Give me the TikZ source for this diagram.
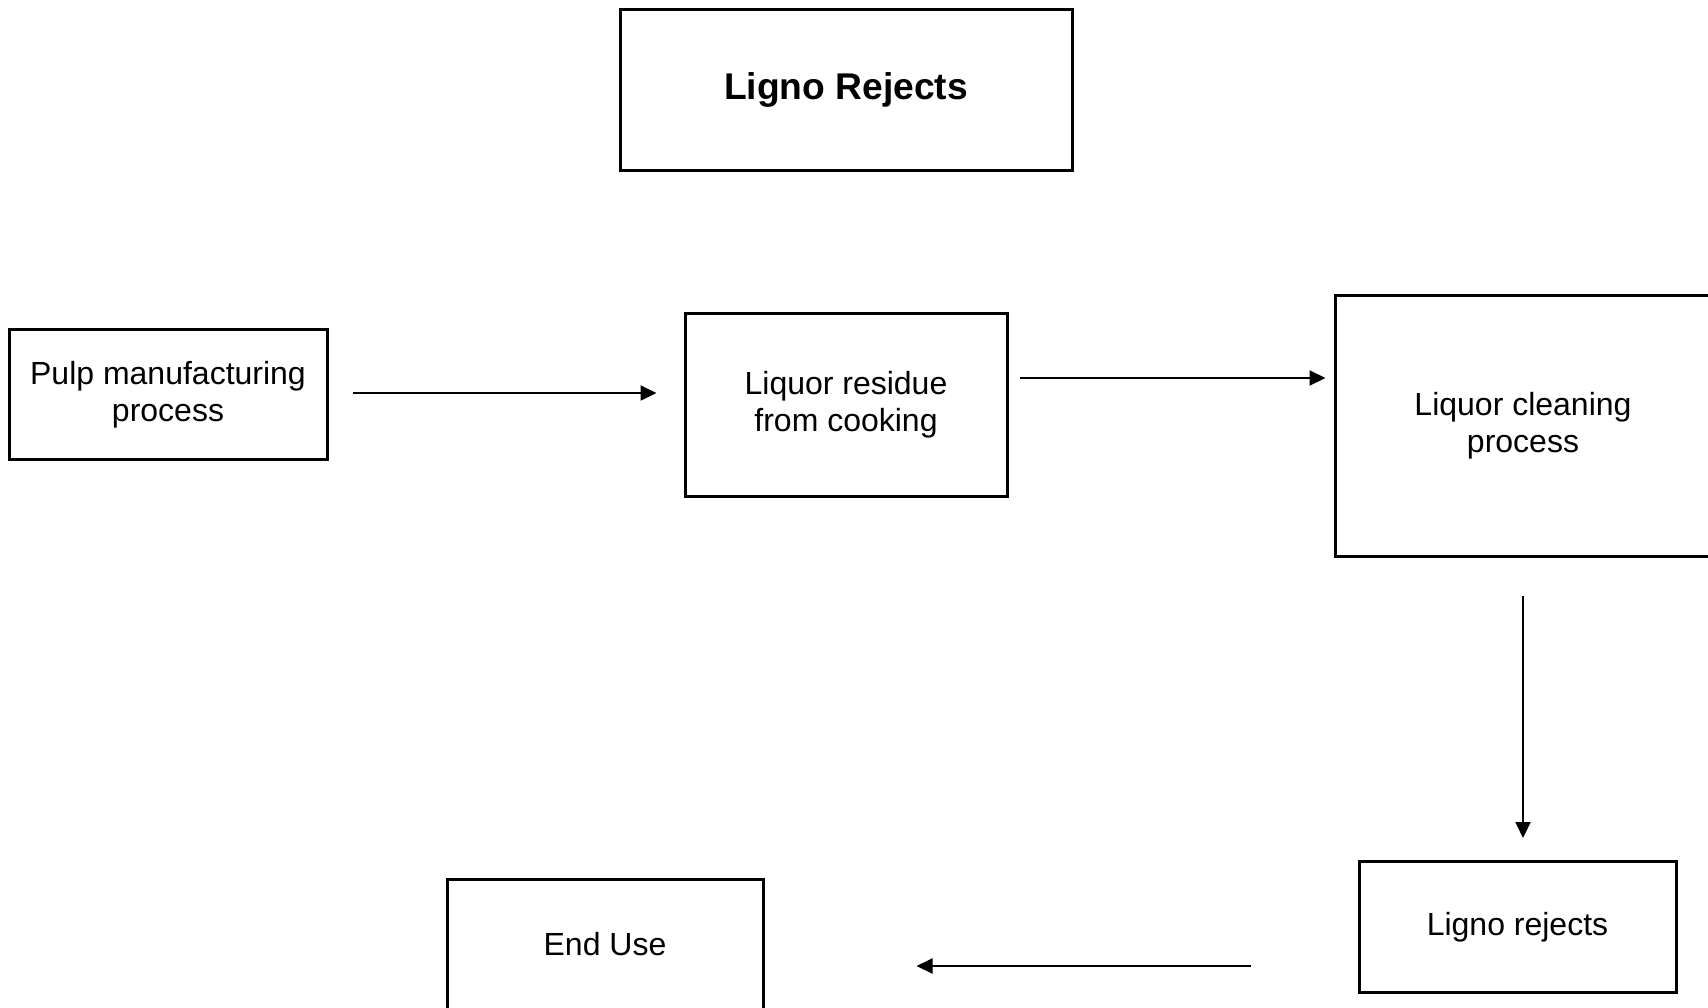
\documentclass[tikz,border=0pt]{standalone}
\usepackage{fontspec}
\setmainfont{Liberation Sans}
\usetikzlibrary{arrows.meta}

\begin{document}
\begin{tikzpicture}[x = .5pt, y = -.5pt,
	box/.style = {draw, line width = 1.5pt, align = center, inner sep = 0pt,
		font = \fontsize{16}{18.3}\selectfont},
	flow/.style = {line width = 1pt, -{Triangle[length = 8pt, width = 7.5pt]}}]
% fix page size
	\useasboundingbox (0,0) rectangle (1708, 1007);
% draw boxes
	\node[box, minimum width = 226pt, minimum height = 80.5pt,
		font = \fontsize{18.6}{22}\selectfont\bfseries] (title) at (846, 89.5) {Ligno Rejects};
	\node[box, minimum width = 159pt, minimum height = 65pt] (pulp) at (168, 394.5) {Pulp manufacturing\\process};
	\node[box, minimum width = 161pt, minimum height = 91.5pt] (residue) at (846, 404.5) {Liquor residue\\from cooking};
	\node[box, minimum width = 188pt, minimum height = 130.5pt] (cleaning) at (1523, 426) {Liquor cleaning\\process};
	\node[box, minimum width = 158.5pt, minimum height = 65.5pt] (ligno) at (1517.5, 927) {Ligno rejects};
	\node[box, minimum width = 158pt, minimum height = 65.5pt] (enduse) at (605, 944.5) {End Use};
% draw arrows
	\coordinate (toresidue) at ([yshift = 0.75pt]pulp.east);
	\coordinate (toclean) at ([yshift = 13.25pt]residue.east);
	\coordinate (touse) at ([yshift = -19.5pt]ligno.west);
	\draw[flow, shorten <= 12pt, shorten >= 13.5pt] (toresidue) -- (toresidue -| residue.west);
	\draw[flow, shorten <= 5.5pt, shorten >= 4pt] (toclean) -- (toclean -| cleaning.west);
	\draw[flow, shorten <= 19pt, shorten >= 11pt] (cleaning.south) -- (cleaning.south |- ligno.north);
	\draw[flow, shorten <= 53.5pt, shorten >= 76pt] (touse) -- (touse -| enduse.east);
\end{tikzpicture}
\end{document}
